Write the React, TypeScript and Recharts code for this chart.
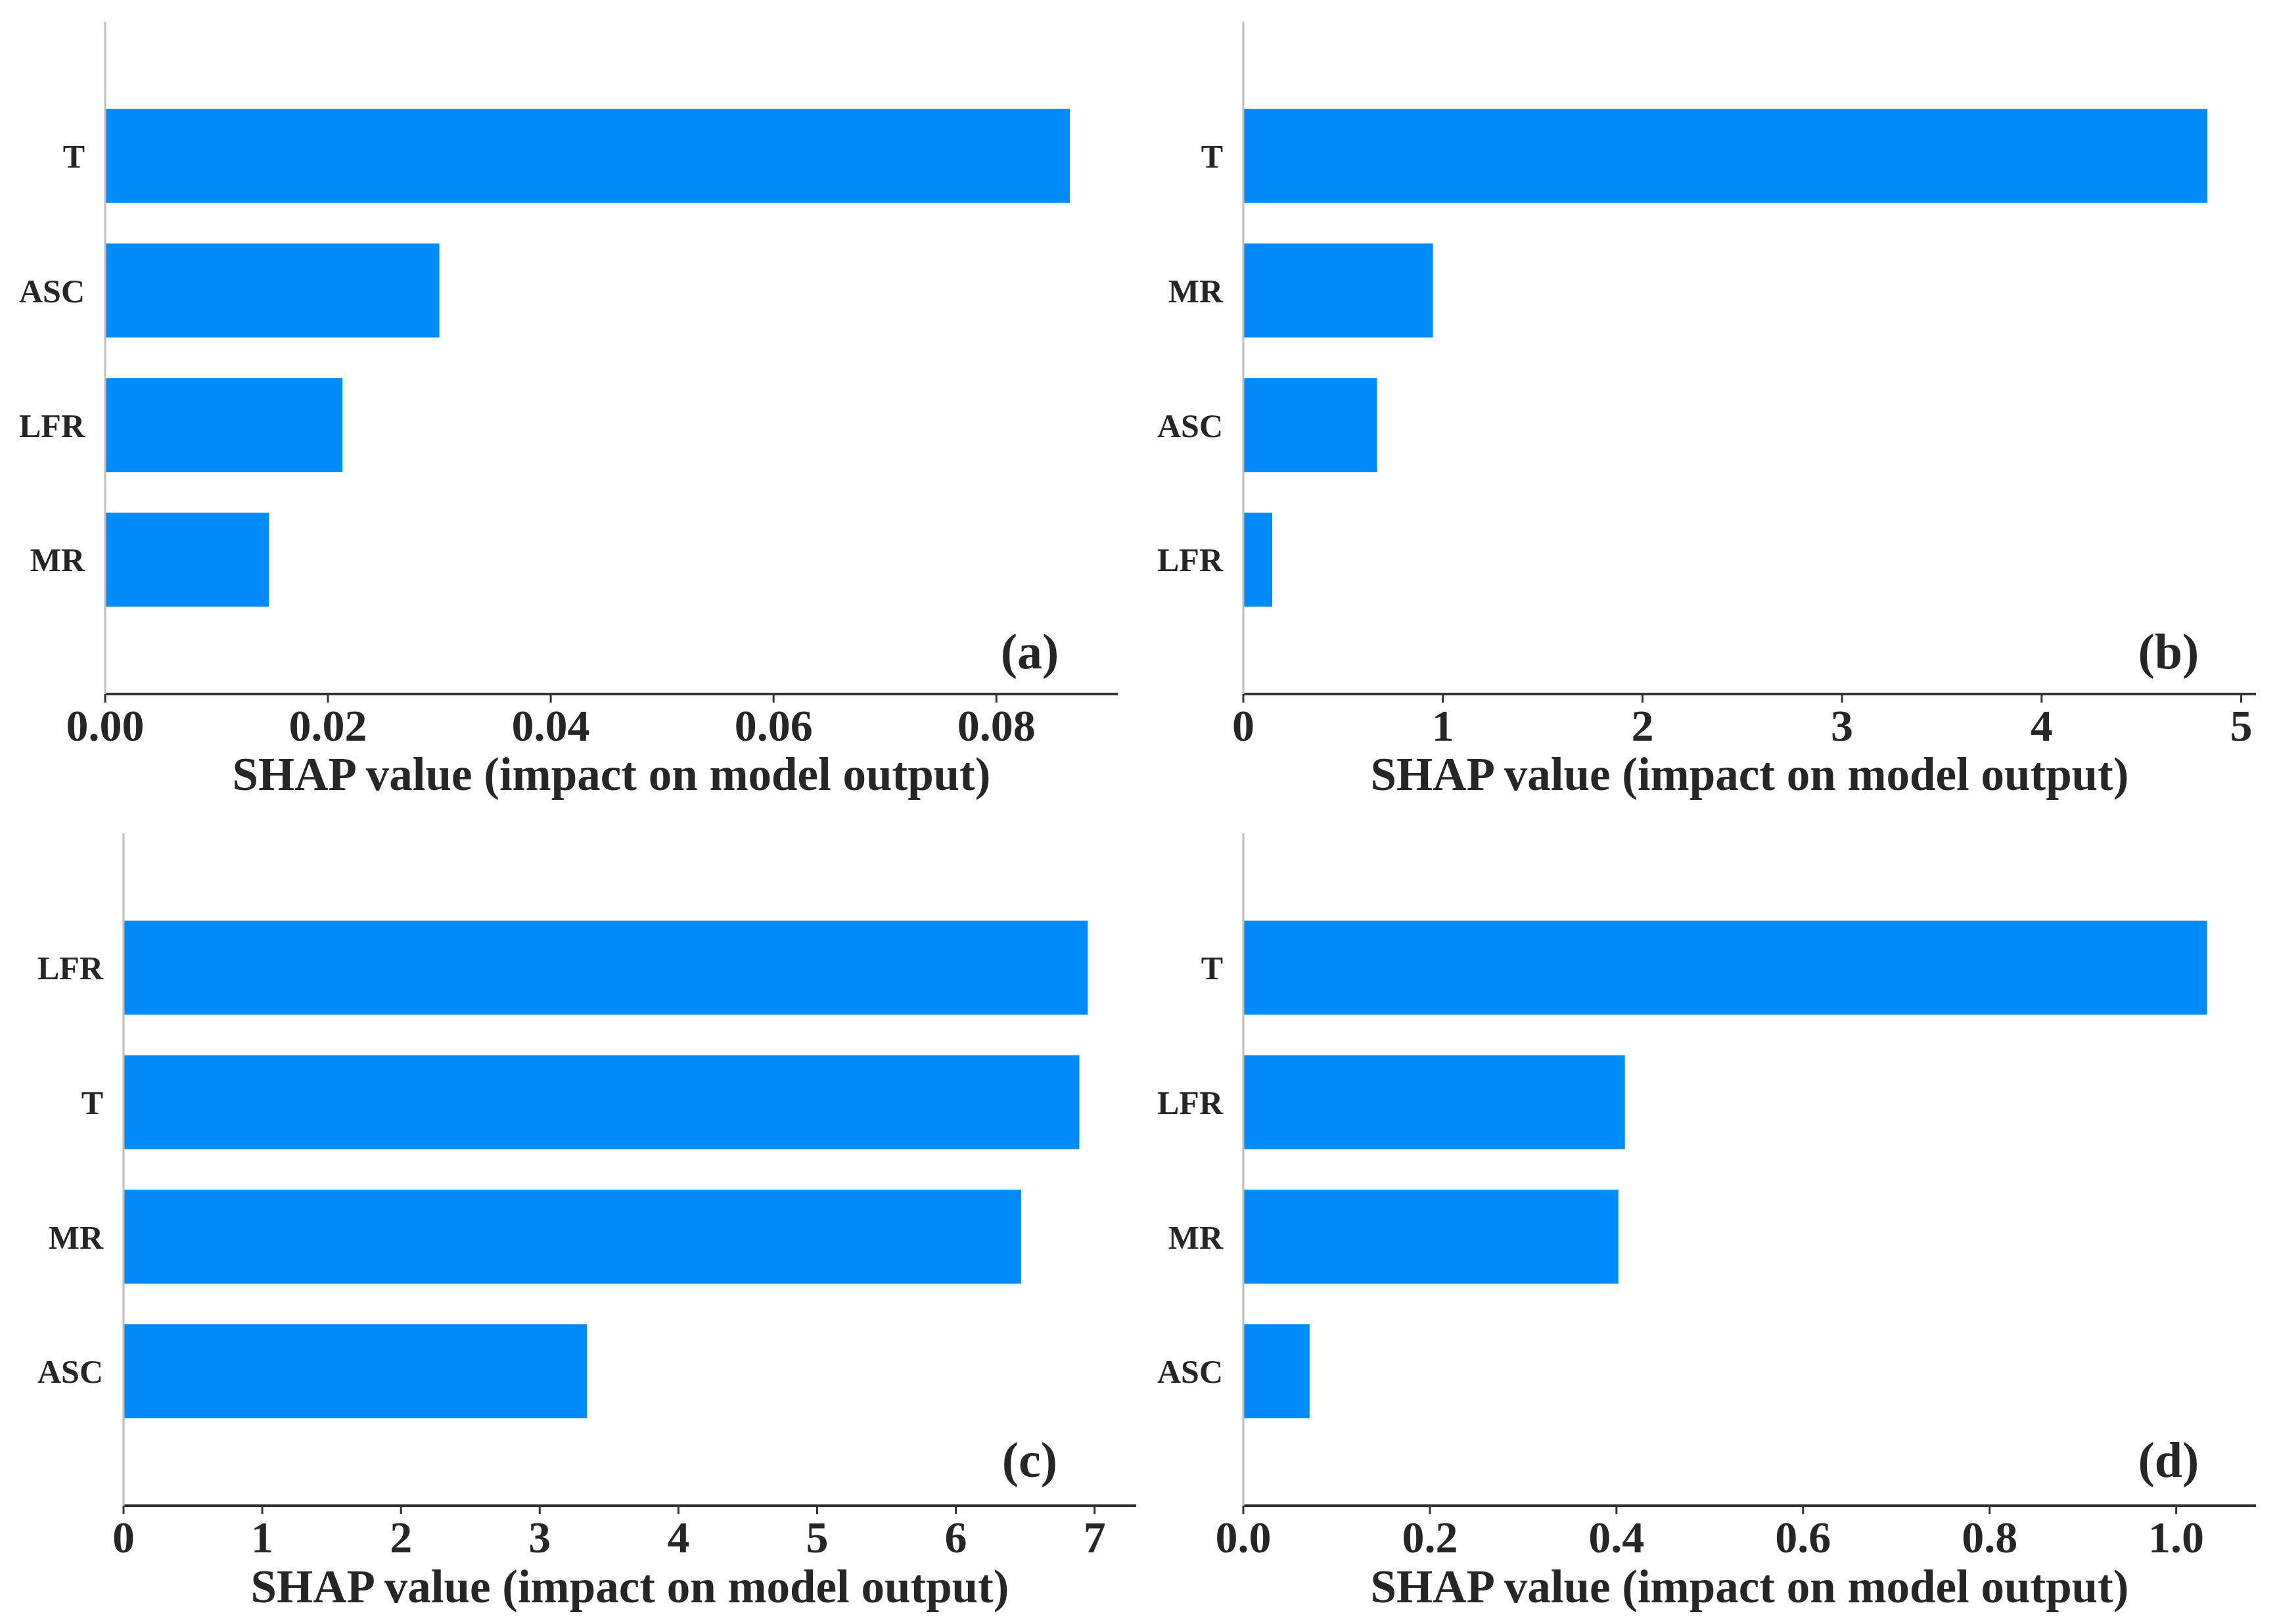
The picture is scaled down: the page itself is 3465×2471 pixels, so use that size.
import React from 'react';
import { BarChart, Bar, XAxis, YAxis } from 'recharts';

// Panel (a)
const aFeatures = ['T', 'ASC', 'LFR', 'MR'];
const aValues = [0.0866, 0.03, 0.0213, 0.0147];
const aTicks = [0, 0.02, 0.04, 0.06, 0.08];
const aMax = 0.0909;

// Panel (b)
const bFeatures = ['T', 'MR', 'ASC', 'LFR'];
const bValues = [4.83, 0.95, 0.67, 0.145];
const bTicks = [0, 1, 2, 3, 4, 5];
const bMax = 5.074;

// Panel (c)
const cFeatures = ['LFR', 'T', 'MR', 'ASC'];
const cValues = [6.95, 6.89, 6.47, 3.34];
const cTicks = [0, 1, 2, 3, 4, 5, 6, 7];
const cMax = 7.3;

// Panel (d)
const dFeatures = ['T', 'LFR', 'MR', 'ASC'];
const dValues = [1.033, 0.409, 0.402, 0.071];
const dTicks = [0, 0.2, 0.4, 0.6, 0.8, 1.0];
const dMax = 1.0855;

const AXIS_TITLE = 'SHAP value (impact on model output)';
const FONT = '"Liberation Serif", "Times New Roman", serif';
const TEXT = '#262626';
const BLUE = '#008BFB';

type PanelProps = {
  features: string[];
  values: number[];
  ticks: number[];
  max: number;
  decimals: number;
  width: number;
  height: number;
  yAxisWidth: number;
  marginRight: number;
};

function Panel({ features, values, ticks, max, decimals, width, height, yAxisWidth, marginRight }: PanelProps) {
  const data = features.map((f, i) => ({ feature: f, value: values[i] }));
  const marginTop = 33;
  const plotBottom = 1056;
  const xAxisHeight = height - plotBottom;
  return (
    <BarChart
      width={width}
      height={height}
      data={data}
      layout="vertical"
      margin={{ top: marginTop, right: marginRight, left: 0, bottom: 0 }}
      barCategoryGap="15%"
    >
      <XAxis
        type="number"
        dataKey="value"
        domain={[0, max]}
        ticks={ticks}
        allowDataOverflow
        height={xAxisHeight}
        tickFormatter={(v: number) => v.toFixed(decimals)}
        axisLine={{ stroke: '#333333', strokeWidth: 4 }}
        tickLine={{ stroke: '#333333', strokeWidth: 3 }}
        tickSize={13}
        tickMargin={10}
        tick={{ fontSize: 68, fontWeight: 'bold', fill: TEXT, fontFamily: FONT }}
        label={{
          value: AXIS_TITLE,
          position: 'insideBottom',
          offset: 33,
          fontSize: 71,
          fontWeight: 'bold',
          fill: TEXT,
          fontFamily: FONT,
        }}
      />
      <YAxis
        type="category"
        dataKey="feature"
        width={yAxisWidth}
        padding={{ top: 102, bottom: 102 }}
        axisLine={{ stroke: '#BDBDBD', strokeWidth: 3 }}
        tickLine={false}
        tickSize={0}
        tickMargin={31}
        tick={{ fontSize: 50, fontWeight: 'bold', fill: TEXT, fontFamily: FONT }}
      />
      <Bar dataKey="value" fill={BLUE} isAnimationActive={false} />
    </BarChart>
  );
}

const panelLabels = ['(a)', '(b)', '(c)', '(d)'];

export default function App() {
  return (
    <div
      style={{
        position: 'absolute',
        left: 0,
        top: 0,
        width: 3465,
        height: 2471,
        background: '#ffffff',
        overflow: 'hidden',
      }}
    >
      <div style={{ position: 'absolute', left: 0, top: 0 }}>
        <Panel features={aFeatures} values={aValues} ticks={aTicks} max={aMax} decimals={2}
          width={1732} height={1235} yAxisWidth={160} marginRight={31} />
      </div>
      <div style={{ position: 'absolute', left: 1732, top: 0 }}>
        <Panel features={bFeatures} values={bValues} ticks={bTicks} max={bMax} decimals={0}
          width={1733} height={1235} yAxisWidth={160} marginRight={32} />
      </div>
      <div style={{ position: 'absolute', left: 0, top: 1235 }}>
        <Panel features={cFeatures} values={cValues} ticks={cTicks} max={cMax} decimals={0}
          width={1732} height={1236} yAxisWidth={188} marginRight={3} />
      </div>
      <div style={{ position: 'absolute', left: 1732, top: 1235 }}>
        <Panel features={dFeatures} values={dValues} ticks={dTicks} max={dMax} decimals={1}
          width={1733} height={1236} yAxisWidth={160} marginRight={32} />
      </div>
      <svg
        width={3465}
        height={2471}
        style={{ position: 'absolute', left: 0, top: 0, pointerEvents: 'none' }}
      >
        {panelLabels.map((t, i) => {
          const col = i % 2;
          const row = Math.floor(i / 2);
          const x = col === 0 ? 1567 : 3300;
          const y = row === 0 ? 1017 : 2247;
          return (
            <text key={t} x={x} y={y} textAnchor="middle" fontSize={76} fontWeight="bold"
              fill={TEXT} fontFamily={FONT}>
              {t}
            </text>
          );
        })}
      </svg>
    </div>
  );
}
